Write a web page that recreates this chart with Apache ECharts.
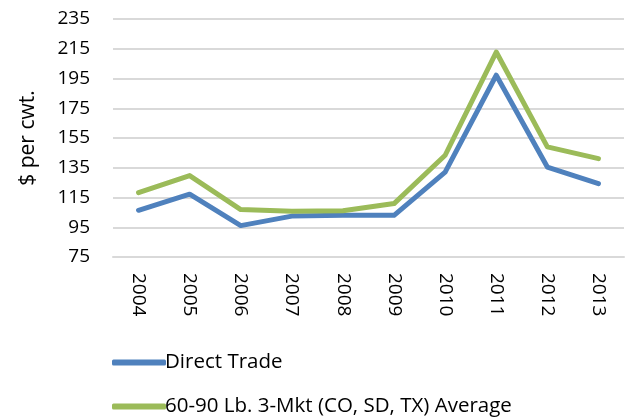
<!DOCTYPE html>
<html>
<head>
	<meta charset="UTF-8">
	<script src="https://cdn.jsdelivr.net/npm/echarts@6/dist/echarts.min.js"></script>
	<title></title>
	<style>body{margin:0;background:#fff;}</style>
</head>
<body>
	<div id="main" style="height:420px;width:631px;"></div>
	<script type="text/javascript">
        var years = ['2004', '2005', '2006', '2007', '2008', '2009', '2010', '2011', '2012', '2013'];
        var directTrade = [106.4, 117.2, 96.1, 102.5, 103, 103, 132.1, 197.2, 135.5, 124.3];
        var mktAverage = [118.3, 129.7, 106.9, 105.7, 106.1, 110.9, 143.4, 212.8, 149, 141.1];
        var yTicks = [75, 95, 115, 135, 155, 175, 195, 215, 235];
        var seriesNames = ['Direct Trade', '60-90 Lb. 3-Mkt (CO, SD, TX) Average'];

        var font = 'Open Sans';
        var myChart = echarts.init(document.getElementById('main'));

        // one legend per row so they stack without wrapping
        function legendRow(name, top) {
            return {
                orient: 'horizontal',
                left: 112,
                top: top,
                padding: 0,
                itemWidth: 54,
                itemHeight: 6,
                icon: 'roundRect',
                textStyle: {fontFamily: font, fontSize: 20.5, color: '#000', padding: [0, 0, 0, -6]},
                data: [name]
            };
        }

        var option = {
            animation: false,
            textStyle: {fontFamily: font},
            grid: {left: 113, right: 7, top: 19, bottom: 163},
            legend: [legendRow(seriesNames[0], 352), legendRow(seriesNames[1], 396)],
            xAxis: {
                type: 'category',
                data: years,
                axisLine: {lineStyle: {color: '#d9d9d9', width: 2}},
                axisTick: {show: false},
                axisLabel: {rotate: -90, fontSize: 19, color: '#000', margin: 16, fontFamily: font}
            },
            yAxis: {
                type: 'value',
                min: yTicks[0],
                max: yTicks[yTicks.length - 1],
                interval: 20,
                name: '$ per cwt.',
                nameLocation: 'middle',
                nameRotate: 90,
                nameGap: 74,
                nameTextStyle: {fontSize: 21, color: '#000', fontFamily: font},
                axisLine: {show: false},
                axisTick: {show: false},
                axisLabel: {fontSize: 19, color: '#000', margin: 23, fontFamily: font},
                splitLine: {lineStyle: {color: '#d9d9d9', width: 2}}
            },
            series: [
                {
                    name: seriesNames[0],
                    type: 'line',
                    data: directTrade,
                    symbol: 'none',
                    itemStyle: {color: '#4f81bd'},
                    lineStyle: {color: '#4f81bd', width: 5, cap: 'round', join: 'round'}
                },
                {
                    name: seriesNames[1],
                    type: 'line',
                    data: mktAverage,
                    symbol: 'none',
                    itemStyle: {color: '#9bbb59'},
                    lineStyle: {color: '#9bbb59', width: 5, cap: 'round', join: 'round'}
                }
            ]
        };
        myChart.setOption(option);
	</script>
</body>
</html>
